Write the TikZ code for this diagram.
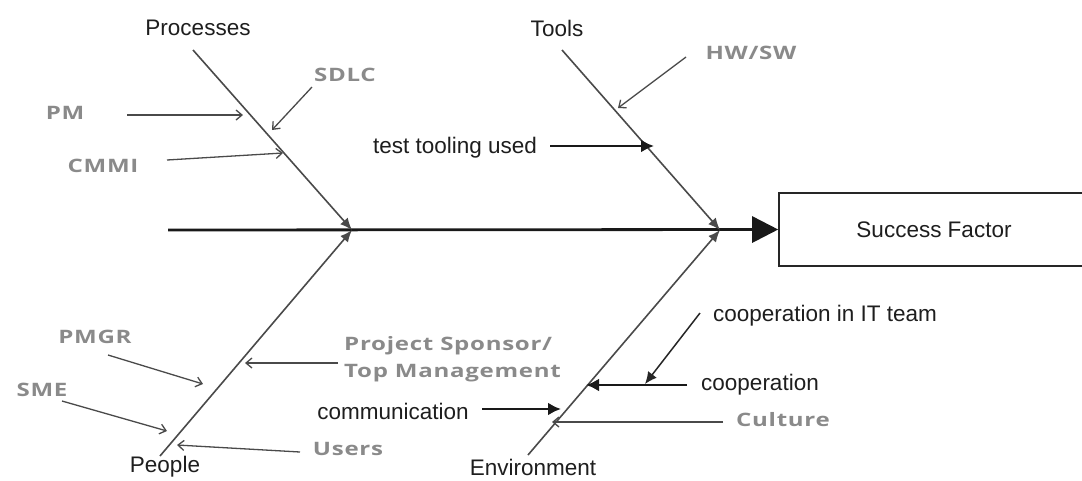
\documentclass[tikz,border=0pt]{standalone}
\usepackage{fontspec}
\usepackage{graphicx}
\setmainfont{Liberation Sans}
\newfontfamily\gfont[LetterSpace=3]{Open Sans}
\usetikzlibrary{arrows.meta}
\definecolor{lbl}{HTML}{1E1E1E}
\definecolor{gtxt}{HTML}{8A8A8A}
\definecolor{gline}{HTML}{4A4A4A}
\newcommand{\gtext}[1]{\scalebox{1.3}[1]{\gfont\bfseries\fontsize{18.5}{27}\selectfont #1}}
\tikzset{
  blk/.style={font=\fontsize{22.5}{24}\selectfont, text=lbl, inner sep=0pt},
  gry/.style={text=gtxt, inner sep=0pt},
  bone/.style={draw=gline, line width=1.6pt, -{Latex[length=12pt,width=10pt]}},
  thin/.style={draw=gline, line width=1.3pt, -{Straight Barb[length=6pt,width=10pt]}},
  thick/.style={draw=black!90, line width=2.6pt, -{Latex[length=13pt,width=13pt]}},
  spine/.style={draw=black!90, line width=2.8pt, -{Triangle[length=26pt,width=26pt]}},
  sfbox/.style={draw=black!85, line width=1.6pt, minimum width=310pt, minimum height=73pt, inner sep=0pt}
}
\begin{document}
\begin{tikzpicture}[x=1pt,y=-1pt]
\useasboundingbox (0,0) rectangle (1082,480);
\fill[white] (0,0) rectangle (1082,480);

% main labels
\node[blk] (proc) at (198,28) {Processes};
\node[blk] (tools) at (557,28) {Tools};
\node[blk] (people) at (165,467) {People};
\node[blk] (env) at (533,467) {Environment};
\node[blk, sfbox] (sf) at (934,229.5) {Success Factor};

% cause labels
\node[gry] (pm) at (65,113) {\gtext{PM}};
\node[gry] (sdlc) at (345,75) {\gtext{SDLC}};
\node[gry] (cmmi) at (103,166) {\gtext{CMMI}};
\node[blk] (ttu) at (455,148) {test tooling used};
\node[gry] (hwsw) at (751,53) {\gtext{HW/SW}};
\node[gry] (pmgr) at (95,337) {\gtext{PMGR}};
\node[gry] (sme) at (42,390) {\gtext{SME}};
\node[gry, anchor=west] (sponsor) at (344,359) {\scalebox{1.3}[1]{\gfont\bfseries\fontsize{18.5}{27}\selectfont\begin{tabular}{@{}l@{}}Project Sponsor/\\Top Management\end{tabular}}};
\node[gry] (users) at (348,449) {\gtext{Users}};
\node[blk] (comm) at (393,411) {communication};
\node[blk] (coopit) at (825,316) {cooperation in IT team};
\node[blk] (coop) at (760,385) {cooperation};
\node[gry] (culture) at (783,420) {\gtext{Culture}};

% bone coordinates
\coordinate (tail) at (168,230);
\coordinate (jL) at (352,230);
\coordinate (jR) at (720,230);
\coordinate (pTop) at (193,50);
\coordinate (tTop) at (562,50);
\coordinate (pBot) at (160,456);
\coordinate (eBot) at (528,455);

% spine and bones
\draw[spine] (tail) -- (sf.west);
\draw[bone] (pTop) -- (jL);
\draw[bone] (pBot) -- (jL);
\draw[bone] (tTop) -- (jR);
\draw[bone] (eBot) -- (jR);

% cause arrow coordinates
\coordinate (pmS) at (127,115);   \coordinate (pmE) at (243,115);
\coordinate (sdS) at (312,87);    \coordinate (sdE) at (272,130);
\coordinate (cmS) at (167,160);   \coordinate (cmE) at (283,153);
\coordinate (hwS) at (686,57);    \coordinate (hwE) at (618,108);
\coordinate (ttS) at (550,146);   \coordinate (ttE) at (654,146);
\coordinate (pgS) at (108,355);   \coordinate (pgE) at (203,384);
\coordinate (smS) at (62,401);    \coordinate (smE) at (167,431);
\coordinate (usS) at (300,452);   \coordinate (usE) at (177,445);
\coordinate (spS) at (338,363);   \coordinate (spE) at (245,363);
\coordinate (coS) at (482,409);   \coordinate (coE) at (561,409);
\coordinate (cpS) at (687,385);   \coordinate (cpE) at (586,385);
\coordinate (ciS) at (700,313);   \coordinate (ciE) at (645,384);
\coordinate (cuS) at (723,422);   \coordinate (cuE) at (552,422);

\draw[thin] (pmS) -- (pmE);
\draw[thin] (sdS) -- (sdE);
\draw[thin] (cmS) -- (cmE);
\draw[thin] (hwS) -- (hwE);
\draw[thick] (ttS) -- (ttE);
\draw[thin] (pgS) -- (pgE);
\draw[thin] (smS) -- (smE);
\draw[thin] (usS) -- (usE);
\draw[thin] (spS) -- (spE);
\draw[thick] (coS) -- (coE);
\draw[thick] (cpS) -- (cpE);
\draw[draw=black!85, line width=1.5pt, -{Latex[length=12pt,width=11pt]}] (ciS) -- (ciE);
\draw[thin] (cuS) -- (cuE);
\end{tikzpicture}
\end{document}
